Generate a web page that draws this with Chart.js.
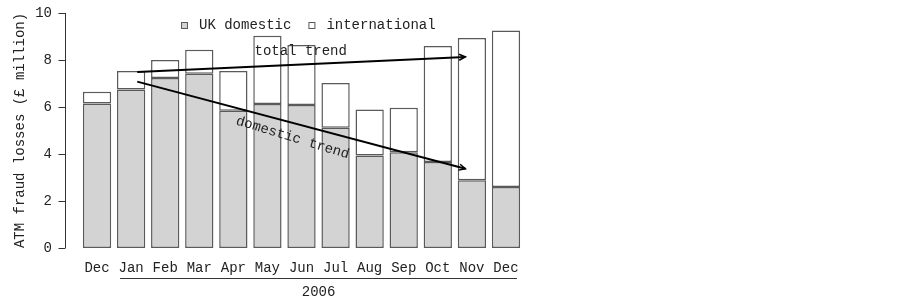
<!DOCTYPE html>
<html>
<head>
<meta charset="utf-8">
<script src="https://cdn.jsdelivr.net/npm/chart.js@4.4.0/dist/chart.umd.min.js"></script>
<style>
  html, body { margin: 0; padding: 0; background: #fff; }
</style>
</head>
<body>
<canvas id="atmChart" width="903" height="301"></canvas>
<script>
const months = ['Dec', 'Jan', 'Feb', 'Mar', 'Apr', 'May', 'Jun', 'Jul', 'Aug', 'Sep', 'Oct', 'Nov', 'Dec'];
const domestic = [6.15, 6.75, 7.23, 7.42, 5.84, 6.13, 6.09, 5.12, 3.94, 4.07, 3.66, 2.88, 2.60];
const international = [0.50, 0.78, 0.77, 1.02, 1.69, 2.90, 2.55, 1.90, 1.95, 1.90, 4.94, 6.06, 6.66];
const yTicks = [0, 2, 4, 6, 8, 10];
// trend arrows, in (category index, £m) units
const totalTrend = [[1.18, 7.49], [10.81, 8.13]];
const domesticTrend = [[1.18, 7.08], [10.81, 3.37]];
const yearLabel = '2006';
const yearFrom = 1, yearTo = 12;

const FONT = "'Liberation Mono', monospace";
const INK = '#222';
const EDGE = '#5a5a5a';

function px(chart, p) {
    return [chart.scales.x.getPixelForValue(p[0]), chart.scales.y.getPixelForValue(p[1])];
}

const decorPlugin = {
    id: 'decor',
    afterDatasetsDraw(chart) {
        const ctx = chart.ctx;
        ctx.save();
        ctx.strokeStyle = '#000';
        [totalTrend, domesticTrend].forEach(tr => {
            const a = px(chart, tr[0]), b = px(chart, tr[1]);
            const ang = Math.atan2(b[1] - a[1], b[0] - a[0]);
            ctx.lineWidth = 2;
            ctx.beginPath();
            ctx.moveTo(a[0], a[1]);
            ctx.lineTo(b[0], b[1]);
            ctx.stroke();
            ctx.lineWidth = 1.5;
            ctx.beginPath();
            ctx.moveTo(b[0] - 7 * Math.cos(ang - 0.45), b[1] - 7 * Math.sin(ang - 0.45));
            ctx.lineTo(b[0], b[1]);
            ctx.lineTo(b[0] - 7 * Math.cos(ang + 0.45), b[1] - 7 * Math.sin(ang + 0.45));
            ctx.stroke();
        });
        ctx.restore();
    },
    afterDraw(chart) {
        const ctx = chart.ctx;
        const ys = chart.scales.y;
        const xs = chart.scales.x;
        const area = chart.chartArea;
        ctx.save();

        // y axis line set off from the bars, with outward ticks
        const ax = Math.round(area.left - 15) + 0.5;
        ctx.strokeStyle = '#333';
        ctx.lineWidth = 1;
        ctx.beginPath();
        ctx.moveTo(ax, ys.getPixelForValue(yTicks[0]));
        ctx.lineTo(ax, ys.getPixelForValue(yTicks[yTicks.length - 1]));
        yTicks.forEach(v => {
            const py = Math.round(ys.getPixelForValue(v)) + 0.5;
            ctx.moveTo(ax, py);
            ctx.lineTo(ax - 7, py);
        });
        ctx.stroke();

        ctx.fillStyle = INK;
        ctx.font = '14px ' + FONT;
        ctx.textBaseline = 'middle';
        ctx.textAlign = 'left';
        const t = px(chart, [4.62, 8.35]);
        ctx.fillText('total trend', t[0], t[1]);

        const d = px(chart, [5.74, 4.69]);
        ctx.save();
        ctx.translate(d[0], d[1]);
        ctx.rotate(17 * Math.PI / 180);
        ctx.textAlign = 'center';
        ctx.fillText('domestic trend', 0, 0);
        ctx.restore();

        // legend inside the plot
        let lx = 181;
        const ly = 25;
        chart.data.datasets.forEach(ds => {
            ctx.fillStyle = ds.backgroundColor;
            ctx.fillRect(lx, ly - 3, 6, 6);
            ctx.strokeStyle = EDGE;
            ctx.lineWidth = 1;
            ctx.strokeRect(lx + 0.5, ly - 2.5, 6, 6);
            ctx.fillStyle = INK;
            ctx.textAlign = 'left';
            ctx.fillText(ds.label, lx + 18, ly);
            lx += 18 + ctx.measureText(ds.label).width + 17;
        });

        // year bracket under the months
        const x0 = xs.getPixelForValue(yearFrom) - 11;
        const x1 = xs.getPixelForValue(yearTo) + 11;
        ctx.strokeStyle = '#333';
        ctx.lineWidth = 1;
        ctx.beginPath();
        ctx.moveTo(x0, 278.5);
        ctx.lineTo(x1, 278.5);
        ctx.stroke();
        ctx.textAlign = 'center';
        ctx.fillText(yearLabel, (xs.getPixelForValue(yearFrom) + xs.getPixelForValue(yearTo)) / 2, 292);

        ctx.restore();
    }
};

new Chart(document.getElementById('atmChart'), {
    type: 'bar',
    data: {
        labels: months,
        datasets: [{
            label: 'UK domestic',
            data: domestic,
            backgroundColor: '#d3d3d3',
            borderColor: EDGE,
            borderWidth: 1.5,
            borderSkipped: false,
            barPercentage: 0.83,
            categoryPercentage: 1
        }, {
            label: 'international',
            data: international,
            backgroundColor: '#ffffff',
            borderColor: EDGE,
            borderWidth: 1.5,
            borderSkipped: false,
            barPercentage: 0.83,
            categoryPercentage: 1
        }]
    },
    options: {
        responsive: false,
        animation: false,
        layout: { padding: { top: 13, right: 380, left: 0, bottom: 0 } },
        scales: {
            x: {
                stacked: true,
                grid: { display: false, drawTicks: false },
                border: { display: false },
                ticks: { color: INK, font: { family: FONT, size: 14 }, padding: 12, maxRotation: 0, autoSkip: false },
                afterFit: s => { s.height = 53; }
            },
            y: {
                stacked: true,
                min: 0,
                max: 10,
                grid: { display: false, drawTicks: false },
                border: { display: false },
                ticks: { stepSize: 2, color: INK, font: { family: FONT, size: 14 }, padding: 28 },
                title: {
                    display: true,
                    text: 'ATM fraud losses (£ million)',
                    color: INK,
                    font: { family: FONT, size: 14 },
                    padding: { top: 12, bottom: 0 }
                },
                // tick padding would otherwise push the plot down
                afterFit: s => { s.width = 80; s.paddingTop = 0; s.paddingBottom = 0; }
            }
        },
        plugins: {
            legend: { display: false },
            tooltip: { enabled: false }
        }
    },
    plugins: [decorPlugin]
});
</script>
</body>
</html>
